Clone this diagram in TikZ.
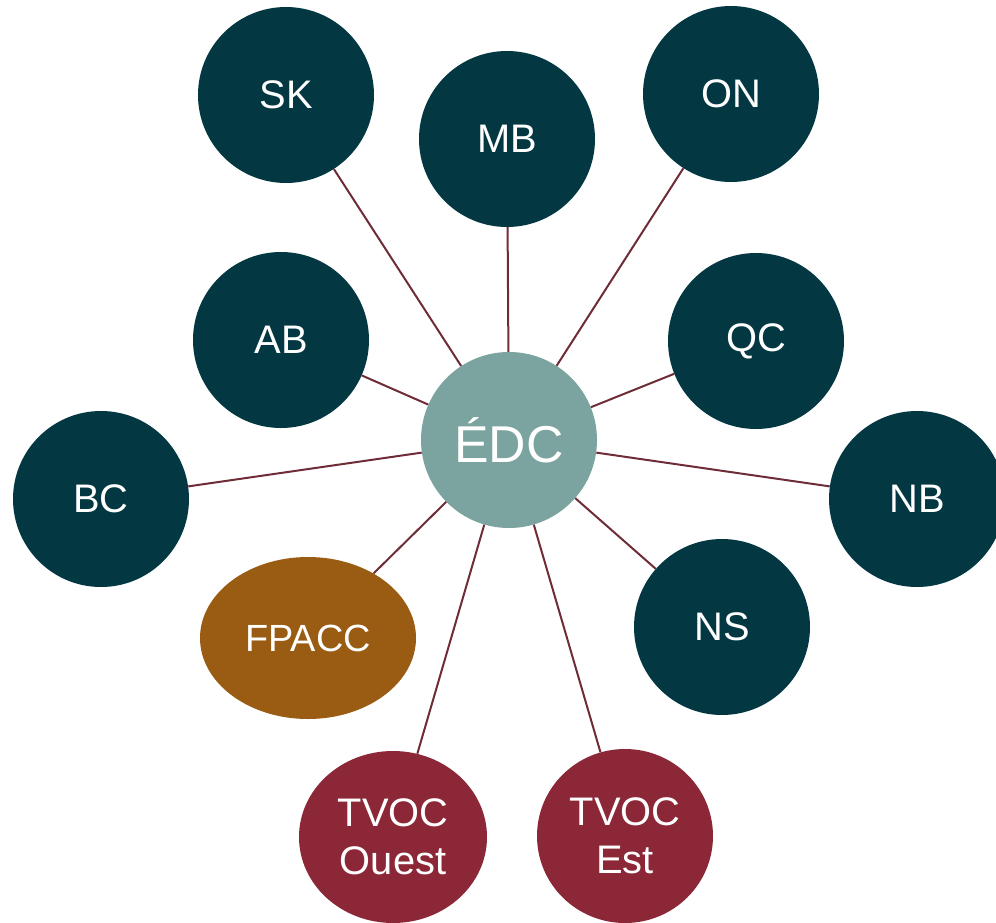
\documentclass[tikz,border=0pt]{standalone}
\usepackage{fontspec}
\setmainfont{Liberation Sans}
\usetikzlibrary{shapes.geometric}

\definecolor{provteal}{HTML}{033843}
\definecolor{hubteal}{HTML}{7BA4A0}
\definecolor{fpaccbrown}{HTML}{9A5C12}
\definecolor{tvocred}{HTML}{8B2736}
\definecolor{linkred}{HTML}{6E2C37}

\begin{document}
\begin{tikzpicture}[x=1bp, y=-1bp,
        prov/.style={circle, fill=provteal, text=white, inner sep=0pt, minimum size=176bp,
                font=\fontsize{40}{44}\selectfont},
        hub/.style={circle, fill=hubteal, text=white, inner sep=0pt, minimum size=176bp,
                font=\fontsize{52}{56}\selectfont},
        fpacc/.style={ellipse, fill=fpaccbrown, text=white, inner sep=0pt,
                minimum width=216bp, minimum height=162bp, font=\fontsize{38}{42}\selectfont},
        tvoc/.style={ellipse, fill=tvocred, text=white, inner sep=0pt, align=center,
                font=\fontsize{40}{48}\selectfont},
        link/.style={draw=linkred, line width=2bp}]

                \clip (0,0) rectangle (996,923);

                % Nodes
                \node[hub] (edc) at (509, 440) {ÉDC};
                \node[prov] (sk) at (286, 95) {SK};
                \node[prov] (mb) at (507, 139) {MB};
                \node[prov] (on) at (731, 94) {ON};
                \node[prov] (ab) at (281, 340) {AB};
                \node[prov] (qc) at (756, 341) {QC};
                \node[prov] (bc) at (101, 499) {BC};
                \node[prov] (nb) at (917, 499) {NB};
                \node[prov] (ns) at (722, 627) {NS};
                \node[fpacc] (fpacc) at (308, 638) {FPACC};
                \node[tvoc, minimum width=188bp, minimum height=172bp] (tvocw) at (393, 837) {TVOC\\Ouest};
                \node[tvoc, minimum width=176bp, minimum height=174bp] (tvoce) at (625, 836) {TVOC\\Est};

                % Edges
                \draw[link] (edc) -- (sk);
                \draw[link] (edc) -- (mb);
                \draw[link] (edc) -- (on);
                \draw[link] (edc) -- (ab);
                \draw[link] (edc) -- (qc);
                \draw[link] (edc) -- (bc);
                \draw[link] (edc) -- (nb);
                \draw[link] (edc) -- (ns);
                \draw[link] (edc) -- (fpacc);
                \draw[link] (edc) -- (tvocw);
                \draw[link] (edc) -- (tvoce);

            \end{tikzpicture}
\end{document}
